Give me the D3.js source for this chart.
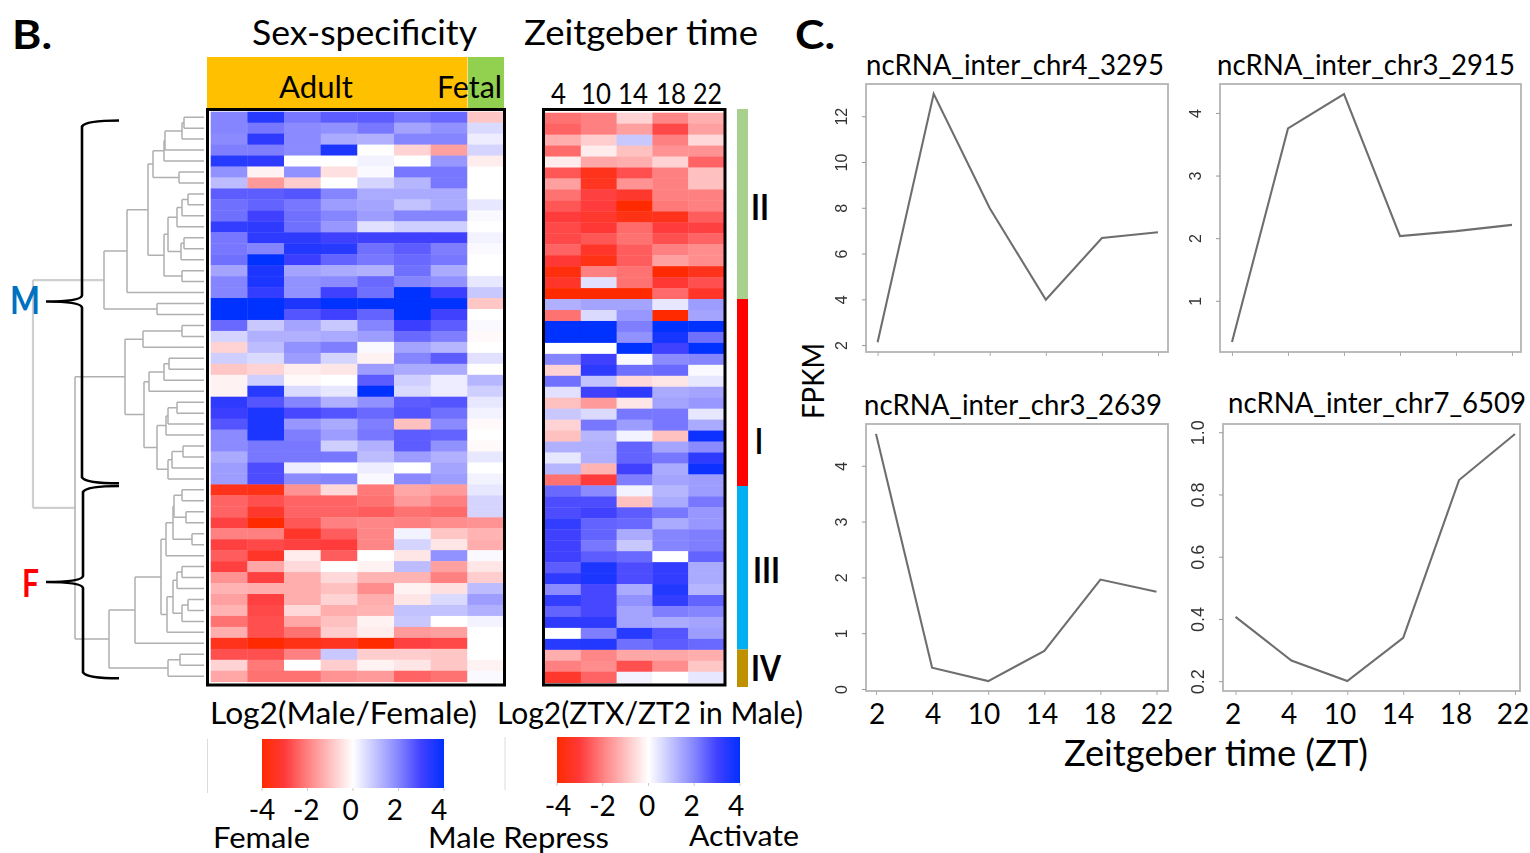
<!DOCTYPE html>
<html><head><meta charset="utf-8">
<script src="https://cdn.jsdelivr.net/npm/d3@7/dist/d3.min.js"></script>
<style>html,body{margin:0;padding:0;background:#fff}svg{display:block}text{font-family:Lato,"Open Sans",sans-serif;fill:#000}</style>
</head><body><svg id="c" width="1530" height="853"></svg>
<script>
// ---------- data ----------
const sexColumns = [1,2,3,4,5,6,7,8];
const sexMatrix = [
[2.0,3.4,2.2,2.6,2.6,2.2,2.4,-0.9],[2.0,2.2,1.9,1.8,2.2,1.5,1.8,0.6],[1.9,3.3,1.9,1.4,1.3,2.0,2.0,0.3],
[2.1,2.1,1.9,3.6,0,-0.7,-1.5,0.7],[3.4,3.3,0,0,0.2,0,1.7,-0.3],[1.8,-0.2,1.8,-0.5,0.1,2.2,2.2,0],
[1.1,-1.6,-0.8,0,0.7,1.2,2.2,0],[2.6,2.6,2.7,2.0,1.4,1.4,1.4,0],[2.3,2.5,2.2,1.6,1.5,1.0,1.4,0.4],
[2.3,3.0,2.3,2.0,1.6,2.0,2.0,0.1],[3.2,3.3,2.3,1.7,0.5,0.8,0.8,0],[2.2,3.3,3.3,3.0,3.0,3.0,3.0,0.2],
[2.2,2.0,3.5,3.4,2.3,2.6,2.1,0.1],[2.3,3.9,3.1,2.5,2.2,2.4,2.2,0],[1.5,3.6,1.5,1.4,1.3,2.3,1.4,0],
[2.0,3.6,1.8,1.9,2.4,2.0,1.8,0.4],[2.0,3.2,1.8,3.0,2.3,4.0,3.1,0.9],[4,4,3.6,3.9,3.9,4,3.9,-0.9],
[4,4,2.7,3.0,2.5,4,3.0,0],[2.4,0.9,1.5,0.9,2.0,3.1,2.6,0.1],[0.7,1.3,1.3,1.4,1.6,2.4,2.1,-0.1],
[-0.7,1.1,1.8,2.1,0.1,1.5,1.2,0],[0.8,0.6,1.6,0.7,-0.2,2.0,2.6,0.5],[-0.9,-0.7,-0.3,-0.4,1.6,1.4,1.4,0],
[-0.2,0.8,-0.1,0,2.6,0.8,0.3,1.2],[-0.2,3.4,0.6,0.4,3.9,0.6,0.3,0.8],[3.3,2.7,2.0,1.3,1.8,2.6,2.7,0.4],
[3.1,3.6,2.9,2.7,2.4,2.7,2.3,0.2],[2.7,3.6,1.7,1.4,2.1,-1.0,1.9,-0.1],[1.9,3.6,2.1,1.6,2.2,2.6,2.5,0],
[1.9,2.2,2.2,0.8,1.3,2.6,1.8,-0.1],[1.4,2.2,2.2,2.2,1.1,1.6,1.3,0.4],[1.6,2.8,0.3,0,0.3,0,1.5,0],
[1.6,2.8,1.9,2.0,0.1,1.9,1.6,0.2],[-3.5,-3.6,-1.7,-0.6,-2.1,-1.4,-1.6,0.4],[-2.4,-2.7,-2.4,-2.4,-2.2,-1.6,-2.0,0.7],
[-2.4,-3.2,-2.4,-2.4,-2.5,-2.2,-2.3,0.7],[-2.9,-3.9,-2.6,-2.0,-1.9,-2.0,-1.8,-1.7],[-2.0,-2.0,-3.3,-2.5,-1.9,0.2,-0.9,-1.2],
[-2.9,-2.8,-2.9,-3.0,-1.9,0.7,-0.4,-1.3],[-2.5,-3.3,-0.3,-2.5,0,-0.4,1.8,0.1],[-2.9,-1.4,-0.6,0,-0.2,1.1,-1.5,-0.4],
[-1.7,-2.9,-1.3,-0.6,-1.2,-1.2,-2.0,-0.8],[-1.2,-1.3,-1.3,-1.0,-1.8,-0.2,-0.5,1.1],[-1.5,-2.9,-1.3,-0.7,-1.3,-0.4,0.6,1.6],
[-1.2,-2.8,-0.6,-1.3,-1.2,1.0,1.0,1.3],[-2.2,-2.7,-1.4,-1.0,-0.2,0.9,0,0.2],[-1.3,-2.7,-2.2,-0.8,-0.3,-1.6,-1.5,0],
[-3.5,-3.9,-3.6,-3.4,-3.9,-2.9,-2.8,0],[-2.7,-2.7,-2.0,0.9,-0.8,-0.8,-0.9,0],[-0.7,-2.1,0,-0.8,-0.2,-0.4,-0.9,-0.2],
[-1.4,-2.2,-2.2,-1.7,-1.6,-2.4,-2.2,0.1]];
const ztColumns = ["4","10","14","18","22"];
const ztMatrix = [
[-2.2,-2.0,-0.7,-1.9,-1.3],[-2.4,-2.0,-1.5,-2.8,-1.5],[-1.3,-0.8,0.9,-2.0,-0.6],[-2.3,-0.3,-1.0,-1.7,-1.7],
[-0.3,-1.4,-1.3,-0.7,-2.4],[-2.6,-3.5,-2.7,-2.0,-1.0],[-1.5,-3.4,-1.7,-2.0,-1.0],[-2.2,-2.9,-3.2,-2.0,-2.0],
[-2.6,-3.0,-4.0,-2.1,-2.0],[-3.0,-3.2,-3.6,-3.5,-2.5],[-2.8,-3.1,-2.3,-3.0,-2.9],[-2.8,-2.6,-2.2,-2.7,-2.4],
[-2.4,-3.3,-2.5,-2.0,-1.8],[-3.1,-3.6,-2.5,-1.5,-1.8],[-3.7,-2.0,-2.2,-3.9,-3.5],[-3.3,0.5,-2.2,-3.1,-2.7],
[-4,-4,-4,-2.3,-3.3],[1.3,1.5,1.5,0.4,1.6],[-2.2,0.6,1.7,-3.9,1.5],[4,4,2.1,4,4],[4,4,1.8,3.7,2.3],
[0,0,3.9,3.0,3.9],[2.0,3.0,0.1,1.9,2.0],[-0.7,3.3,2.3,2.4,0.1],[2.3,1.0,-0.6,-0.4,0.4],[0.5,3.0,3.3,1.4,1.5],
[-1.0,-1.6,-0.4,1.5,1.7],[0.9,0.6,2.2,2.2,0.4],[-0.7,2.2,1.6,2.2,1.4],[-1.0,1.2,0.2,-1.0,3.8],[1.3,1.3,2.5,1.5,1.9],
[0.4,1.3,2.5,2.2,3.3],[1.2,-1.2,3.0,1.4,3.8],[-2.2,-3.0,2.1,1.5,1.6],[2.4,1.9,0.2,1.2,1.6],[2.8,2.8,-1.0,1.4,2.2],
[2.8,3.0,2.6,2.2,1.7],[3.2,2.5,2.4,1.4,1.7],[3.0,2.5,1.4,2.0,2.1],[3.0,2.2,0.9,2.0,2.1],[3.0,2.6,2.4,0,2.5],
[2.6,3.6,2.8,3.2,1.4],[3.3,3.6,2.8,3.2,1.4],[1.9,2.9,1.4,3.5,1.2],[3.2,2.9,1.8,3.2,2.5],[2.5,2.9,1.5,2.1,2.0],
[3.3,3.3,1.5,1.4,1.5],[0,2.1,3.4,2.7,1.6],[3.4,3.5,2.3,2.6,2.4],[-1.3,-1.9,-1.4,-1.4,-1.3],[-2.0,-1.8,-2.7,-1.8,-0.9],
[-3.2,-2.4,0.2,0,0.4]];
// Dendrogram: [merge height, child, child]; 0 is a leaf (one row, top to bottom)
const dendrogram = [171,
 [100,
  [77,
   [56,
    [51,[40,[39,[22,[20,0,0],0],0],0],[25,0,0]],
    [40,[36,[27,[22,[16,0,0],0],0],[23,[20,0,0],0]],[22,0,0]]],
   0],
  [47,0,0]],
 [129,
  [79,
   [61,[22,0,0],0],
   [60,
    [55,[40,[35,0,0],0],0],
    [47,[38,[36,[27,0,0],0],0],[36,[32,[21,0,0],0],0]]]],
  [95,
   [69,
    [43,
     [38,[31,[30,[22,0,0],[18,0,0]],[12,0,0]],0],
     [37,[31,[27,[22,0,0],0],[22,[16,0,0],0]],0]],
    0],
   [36,[24,0,0],0]]]];
const legendTicks = [-4,-2,0,2,4];
const ztLabels = ["2","4","10","14","18","22"];
const panelTitles = ["ncRNA_inter_chr4_3295","ncRNA_inter_chr3_2915","ncRNA_inter_chr3_2639","ncRNA_inter_chr7_6509"];
const fpkm3295 = [2.15,13,8,4,6.7,6.95];
const fpkm2915 = [0.35,3.76,4.31,2.04,2.12,2.22];
const fpkm2639 = [4.58,0.39,0.15,0.69,1.97,1.75];
const fpkm6509 = [0.408,0.268,0.202,0.341,0.848,0.996];
const ticks3295 = [2,4,6,8,10,12];
const ticks2915 = [1,2,3,4];
const ticks2639 = [0,1,2,3,4];
const ticks6509 = [0.2,0.4,0.6,0.8,1.0];
const clusterNames = ["II","I","III","IV"];
const clusterColors = ["#a9d18e","#ff0000","#00b0f0","#bf9000"];

// ---------- helpers ----------
const svg = d3.select("#c");
const defs = svg.append("defs");
function blur(id,s){defs.append("filter").attr("id",id).attr("x","-5%").attr("y","-5%").attr("width","110%").attr("height","110%")
  .append("feGaussianBlur").attr("stdDeviation",s);}
blur("b4",0.5); blur("b7",0.65);
const colorDomain=[-4,-3,-2,-1,0,1,2,3,4];
const colorRange=["#ff2a00","#ff3a3a","#ff8080","#ffc0c0","#ffffff","#c2c2ff","#8585ff","#4040ff","#0030ff"];
const color = d3.scaleLinear().domain(colorDomain).range(colorRange);
function label(t,x0,x1,base,size,opt={}){
  const s=svg.append("text").attr("x",x0).attr("y",base).attr("font-size",size).text(t)
    .attr("textLength",x1-x0).attr("lengthAdjust","spacingAndGlyphs");
  if(opt.weight) s.attr("font-weight",opt.weight);
  if(opt.fill) s.style("fill",opt.fill);
  return s;
}

// ---------- titles ----------
label("B.",12,52,49,40,{weight:700});
label("C.",795,835,49,40,{weight:700});
label("Sex-specificity",252,477,45,34);
label("Zeitgeber time",524,758,45,34);

svg.append("rect").attr("x",207).attr("y",57).attr("width",260.5).attr("height",52).attr("fill","#ffc000");
svg.append("rect").attr("x",468).attr("y",57).attr("width",36).attr("height",52).attr("fill","#92d050");
label("Adult",279,353,98,30);
label("Fetal",437,502,98,30);

// ---------- heatmaps ----------
function heatmap(matrix,cols,x0,x1,y0,y1){
  const x=d3.scaleBand().domain(d3.range(cols.length)).range([x0,x1]);
  const y=d3.scaleBand().domain(d3.range(matrix.length)).range([y0,y1]);
  const g=svg.append("g").attr("filter","url(#b4)");
  g.selectAll("g").data(matrix).join("g").attr("transform",(d,i)=>`translate(0,${y(i)})`)
   .selectAll("rect").data(d=>d).join("rect")
   .attr("x",(d,i)=>x(i)).attr("width",x.bandwidth()+0.4).attr("height",y.bandwidth()+0.4)
   .attr("fill",d=>color(d));
  return {x,y};
}
const hmA=heatmap(sexMatrix,sexColumns,210.7,504,111.7,681.7);
const hmB=heatmap(ztMatrix,ztColumns,545,724,112.7,682.7);
svg.append("rect").attr("x",207.5).attr("y",109.5).attr("width",297).attr("height",575.5).attr("fill","none").attr("stroke","#000").attr("stroke-width",3);
svg.append("rect").attr("x",543.5).attr("y",109.5).attr("width",181.5).attr("height",575.5).attr("fill","none").attr("stroke","#000").attr("stroke-width",3);

const ztHeadX=[551,581,618,656,693], ztHeadW=[15,30,30,30,29];
ztColumns.forEach((t,i)=>label(t,ztHeadX[i],ztHeadX[i]+ztHeadW[i],104,28));

// cluster side bar
const barStops=[109,299,486,649.5,687];
clusterColors.forEach((c,i)=>svg.append("rect").attr("x",737).attr("y",barStops[i]).attr("width",11)
  .attr("height",barStops[i+1]-barStops[i]).attr("fill",c));
const clusterLabelX=[[751,769],[755,763],[753,780],[751,781]], clusterLabelY=[220,454,583,681];
clusterNames.forEach((t,i)=>label(t,clusterLabelX[i][0],clusterLabelX[i][1],clusterLabelY[i],37,{weight:700}));

// ---------- dendrogram ----------
const root=d3.hierarchy(dendrogram,d=>Array.isArray(d)?d.slice(1):null);
const heightX=d3.scaleLinear().domain([0,171]).range([204,33]);
const rowY=i=>hmA.y(i)+hmA.y.bandwidth()/2;
let leafIdx=0;
root.eachAfter(n=>{
  n.h=Array.isArray(n.data)?n.data[0]:0;
  if(!n.children){n.py=rowY(leafIdx++);}
  else{n.py=(n.children[0].py+n.children[n.children.length-1].py)/2;}
});
const dg=svg.append("g").attr("filter","url(#b4)").attr("fill","none");
root.each(n=>{
  if(!n.children) return;
  const p=d3.path(), px=heightX(n.h);
  p.moveTo(px,n.children[0].py); p.lineTo(px,n.children[1].py);
  n.children.forEach(c=>{p.moveTo(px,c.py);p.lineTo(heightX(c.h),c.py);});
  dg.append("path").attr("d",p.toString())
    .attr("stroke",n.depth===0?"#cfcfcf":"#b0b0b0").attr("stroke-width",n.depth===0?2.2:1.5);
});

// ---------- braces ----------
function brace(xEnd,xSpine,xTip,y0,yTip,y1){
  const p=d3.path();
  p.moveTo(xEnd,y0);
  p.bezierCurveTo(xEnd-15,y0,xSpine+3,y0+1,xSpine,y0+6);
  p.lineTo(xSpine,yTip-6);
  p.bezierCurveTo(xSpine-1,yTip-2,xSpine-15,yTip,xTip,yTip);
  p.bezierCurveTo(xSpine-15,yTip,xSpine-1,yTip+2,xSpine,yTip+6);
  p.lineTo(xSpine,y1-6);
  p.bezierCurveTo(xSpine+3,y1-1,xEnd-15,y1,xEnd,y1);
  svg.append("path").attr("d",p.toString()).attr("fill","none").attr("stroke","#000").attr("stroke-width",2.6);
}
brace(119,82,46,120.5,301.5,483.3);
brace(119,83,46,486,582,678.3);
label("M",10,40,314,38,{fill:"#0070c0",weight:700});
label("F",22,39,597,38,{fill:"#ff0000",weight:700});

// ---------- colour legends ----------
label("Log2(Male/Female)",210,477,724,30);
label("Log2(ZTX/ZT2 in Male)",497,803,724,30);
const grad=defs.append("linearGradient").attr("id","lg");
colorDomain.forEach(v=>grad.append("stop").attr("offset",(v+4)/8).attr("stop-color",color(v)));
function colorbar(x0,x1,y0,y1,base,lx0,lx1,ruleX,ruleY0,ruleY1){
  const s=d3.scaleLinear().domain([-4,4]).range([x0,x1]);
  const ls=d3.scaleLinear().domain([-4,4]).range([lx0,lx1]);
  svg.append("rect").attr("x",x0).attr("y",y0).attr("width",x1-x0).attr("height",y1-y0).attr("fill","url(#lg)").attr("filter","url(#b4)");
  svg.append("line").attr("x1",ruleX).attr("x2",ruleX).attr("y1",ruleY0).attr("y2",ruleY1).attr("stroke","#dcdcdc");
  legendTicks.forEach(v=>{
    svg.append("line").attr("x1",s(v)).attr("x2",s(v)).attr("y1",y1).attr("y2",y1+3).attr("stroke","#ccc");
    svg.append("text").attr("x",ls(v)).attr("y",base).attr("font-size",28).attr("text-anchor","middle").text(v);
  });
}
colorbar(262,444,739,788,820,262,439,207.5,739,793);
colorbar(557,740,737,783,816,558,736,505,737,790);
label("Female",213,310,848,29);
label("Male Repress",428,609,848,29);
label("Activate",689,799,846,29);

// ---------- line panels ----------
const panels=[
 {title:panelTitles[0],tx:[866,1164],ty:75,v:fpkm3295,ticks:ticks3295,dom:[1.72,13.43],box:[866,1168,84,352],pts:[877.6,1158],tickFont:16},
 {title:panelTitles[1],tx:[1217,1515],ty:75,v:fpkm2915,ticks:ticks2915,dom:[0.19,4.47],box:[1220,1521,84,352],pts:[1232,1512],tickFont:16},
 {title:panelTitles[2],tx:[864,1162],ty:415,v:fpkm2639,ticks:ticks2639,dom:[-0.027,4.757],box:[866,1168,424,691],pts:[876,1156.5],tickFont:16,labelX:[877,933,984,1042,1100,1157]},
 {title:panelTitles[3],tx:[1228,1526],ty:413,v:fpkm6509,ticks:ticks6509,dom:[0.17,1.028],box:[1223,1520,424,691],pts:[1235.5,1515],tickFont:18,labelX:[1233,1289,1340,1398,1456,1513]}
];
panels.forEach(P=>{
  label(P.title,P.tx[0],P.tx[1],P.ty,28);
  const [l,r,t,b]=P.box;
  const x=d3.scalePoint().domain(ztLabels).range(P.pts);
  const y=d3.scaleLinear().domain(P.dom).range([b,t]);
  const g=svg.append("g").attr("filter","url(#b7)");
  g.append("rect").attr("x",l).attr("y",t).attr("width",r-l).attr("height",b-t).attr("fill","none").attr("stroke","#b4b4b4").attr("stroke-width",1.8);
  g.append("path").datum(P.v).attr("fill","none").attr("stroke","#6e6e6e").attr("stroke-width",2.1)
    .attr("d",d3.line().x((d,i)=>x(ztLabels[i])).y(d=>y(d)));
  const ay=g.append("g").attr("transform",`translate(${l},0)`).call(d3.axisLeft(y).tickValues(P.ticks).tickSize(4).tickFormat(d=>P.dom[1]<2?d.toFixed(1):d));
  ay.select(".domain").remove();
  ay.selectAll("line").attr("stroke","#999");
  ay.selectAll("text").each(function(d){
    d3.select(this).attr("transform",`translate(-19,${y(d)}) rotate(-90)`).attr("x",0).attr("y",0).attr("dy",0)
      .attr("text-anchor","middle").style("font-family","'Liberation Sans',sans-serif").style("fill","#333").attr("font-size",P.tickFont);
  });
  ay.selectAll(".tick").attr("transform","translate(0,0)");
  ay.selectAll(".tick line").attr("y1",d=>y(d)).attr("y2",d=>y(d));
  const ax=g.append("g").attr("transform",`translate(0,${b})`).call(d3.axisBottom(x).tickSize(4).tickFormat(""));
  ax.select(".domain").remove();
  ax.selectAll("line").attr("stroke","#aaa");
  if(P.labelX) ztLabels.forEach((d,i)=>svg.append("text").attr("x",P.labelX[i]).attr("y",724).attr("font-size",28).attr("text-anchor","middle").text(d));
});
svg.append("text").attr("transform","translate(824,381) rotate(-90)").attr("font-size",30).attr("text-anchor","middle")
  .attr("textLength",76).attr("lengthAdjust","spacingAndGlyphs").text("FPKM");
label("Zeitgeber time (ZT)",1064,1368,766,36);
</script></body></html>
